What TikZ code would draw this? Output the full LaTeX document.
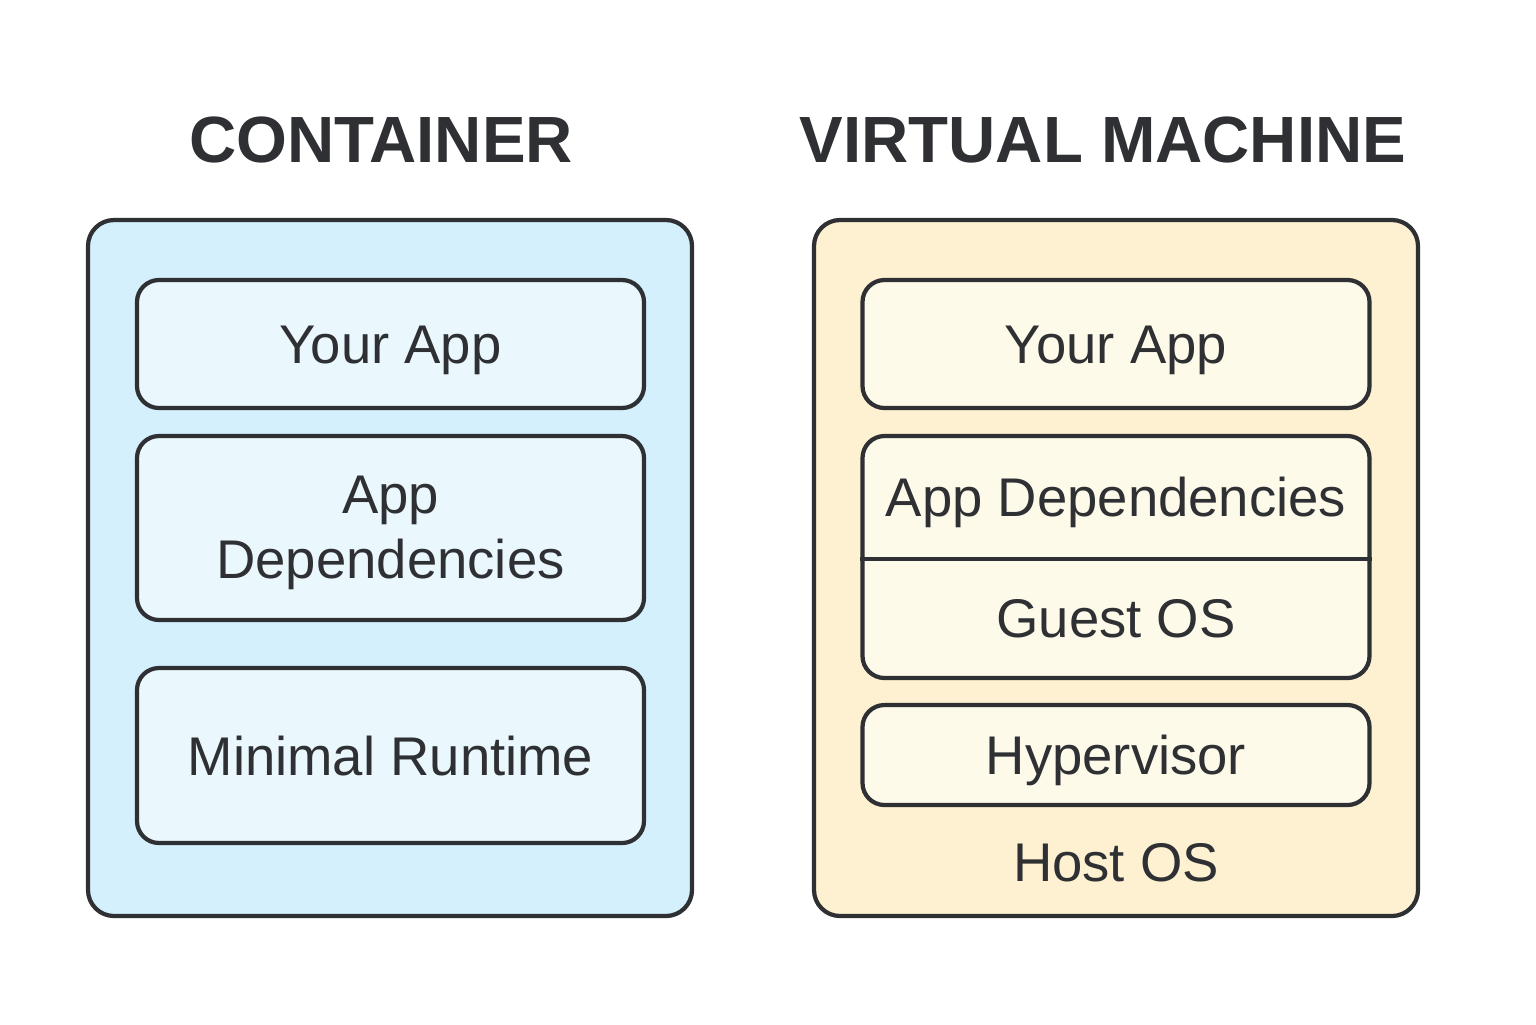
\documentclass[tikz,border=0pt]{standalone}
\usepackage{fontspec}
\setmainfont{Liberation Sans}
\usetikzlibrary{positioning, fit}

\definecolor{inkgray}{HTML}{2E3033}
\definecolor{contfill}{HTML}{D3F0FC}
\definecolor{contlayer}{HTML}{EAF8FE}
\definecolor{vmfill}{HTML}{FDF1D1}
\definecolor{vmlayer}{HTML}{FEFAEA}

\begin{document}
\begin{tikzpicture}[line width=1.2pt, draw=inkgray, text=inkgray]
    \tikzset{
        outer_box/.style={draw=inkgray, rounded corners=0.26cm, inner sep=0pt,
            minimum width=6.04cm, minimum height=6.96cm},
        layer_box/.style={draw=inkgray, rounded corners=0.22cm, inner sep=0pt,
            minimum width=5.07cm, align=center, text height=11.1pt, text depth=0pt,
            font=\fontsize{15.5}{18.5}\selectfont},
        plain_layer/.style={inner sep=0pt, minimum width=5.07cm, minimum height=1.21cm,
            text height=11.1pt, text depth=0pt,
            font=\fontsize{15.5}{18.5}\selectfont},
        side_title/.style={font=\fontsize{18.6}{22}\selectfont\bfseries}
    }
    \useasboundingbox (0,0) rectangle (15.36,-10.24);

    % container side
    \begin{scope}[local bounding box=ContSide]
        \node[side_title] (cont_title) at (3.81,-1.40) {CONTAINER};
        \node[outer_box, fill=contfill] (cont_box) at (3.90,-5.68) {};
        \node[layer_box, fill=contlayer, minimum height=1.28cm] (c_app) at (3.905,-3.44) {Your App};
        \node[layer_box, fill=contlayer, minimum height=1.84cm] (c_deps) at (3.905,-5.28) {};
        \node[align=center, font=\fontsize{15.5}{18.5}\selectfont] (c_deps_text) at (3.905,-5.33) {App\\Dependencies};
        \node[layer_box, fill=contlayer, minimum height=1.75cm] (c_runtime) at (3.905,-7.555) {Minimal Runtime};
    \end{scope}

    % virtual machine side
    \begin{scope}[local bounding box=VMSide]
        \node[side_title] (vm_title) at (11.03,-1.40) {VIRTUAL MACHINE};
        \node[outer_box, fill=vmfill] (vm_box) at (11.16,-5.68) {};
        \node[layer_box, fill=vmlayer, minimum height=1.28cm] (v_app) at (11.16,-3.44) {Your App};
        \node[layer_box, fill=vmlayer, minimum height=2.42cm] (v_stack) at (11.16,-5.57) {};
        \node[plain_layer] (v_deps) at (11.16,-4.965) {App Dependencies};
        \node[plain_layer] (v_guest) at (11.16,-6.175) {Guest OS};
        \draw (v_deps.south west) -- (v_deps.south east);
        \node[layer_box, fill=vmlayer, minimum height=1.00cm] (v_hyper) at (11.16,-7.55) {Hypervisor};
        \node[plain_layer, minimum height=0.8cm] (v_host) at (11.16,-8.62) {Host OS};
    \end{scope}

\end{tikzpicture}
\end{document}
